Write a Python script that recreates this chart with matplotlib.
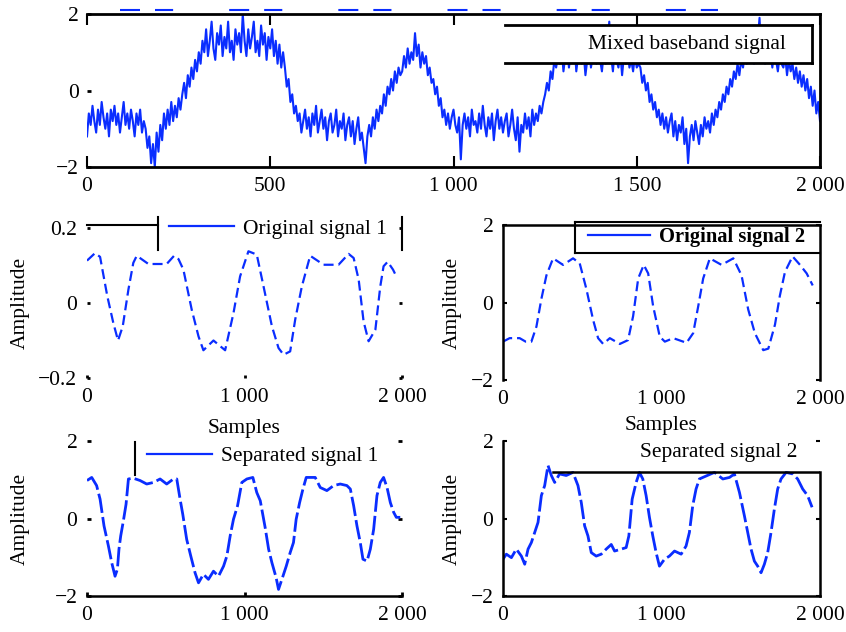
import numpy as np
import matplotlib
matplotlib.use('Agg')
import matplotlib.pyplot as plt
from matplotlib.lines import Line2D
from matplotlib.patches import Rectangle

# 字体设置
plt.rcParams['font.family'] = ['Liberation Serif', 'DejaVu Serif']
plt.rcParams['font.size'] = 15.5

# 混合基带信号（每5个采样点取一个值）
mixed_x = np.arange(0, 2001, 5)
mixed_y = [
    # 0-155
    -1.2, -0.6, -0.9, -0.4, -0.8, -1.1, -0.5, -0.9, -0.3, -0.7, -1.0, -0.6, -1.2, -0.5, -0.8, -0.4,
    -0.9, -0.6, -1.1, -0.7, -0.3, -0.9, -0.6, -1.0, -0.5, -0.8, -1.2, -0.6, -0.9, -0.5, -1.1, -0.8,
    # 160-195
    -1.0, -1.5, -1.2, -1.9, -1.4, -2.0, -1.1, -1.6,
    # 200-255
    -0.9, -1.3, -0.6, -1.0, -0.5, -0.9, -0.3, -0.8, -0.4, -0.7, -0.2, -0.5,
    # 260-315
    -0.1, 0.2, -0.2, 0.4, 0.1, 0.6, 0.3, 0.8, 0.5, 1.0, 0.7, 1.3,
    # 320-535
    1.0, 1.6, 0.9, 1.3, 1.8, 1.1, 0.8, 1.5, 1.2, 1.7, 0.9, 1.4,
    1.1, 1.8, 1.0, 1.3, 0.8, 1.6, 1.2, 1.5, 1.0, 2.0, 1.3, 0.9,
    1.6, 1.1, 1.4, 1.8, 1.0, 1.3, 0.9, 1.7, 1.2, 1.5, 0.8, 1.4,
    1.1, 1.6, 0.9, 1.3, 0.7, 1.2, 0.6, 1.0,
    # 540-575
    0.6, 0.1, 0.3, -0.3, -0.1, -0.6, -0.4, -0.8,
    # 580-765
    -0.6, -1.1, -0.8, -0.5, -1.0, -0.7, -1.2, -0.6, -0.9, -0.4, -1.1, -0.8,
    -0.5, -1.0, -0.7, -1.3, -0.8, -0.6, -1.1, -0.9, -0.5, -1.2, -0.8, -1.0,
    -0.6, -1.3, -0.9, -0.7, -1.2, -0.8, -1.4, -1.0, -0.7, -1.3, -1.1, -1.5,
    -1.9, -1.2,
    # 770-855
    -0.9, -1.2, -0.7, -1.0, -0.5, -0.8, -0.4, -0.6, -0.1, -0.4, 0.1, -0.1, 0.3, 0.0, 0.5, 0.2, 0.6, 0.4,
    # 860-945
    0.5, 0.9, 0.6, 1.1, 0.7, 1.0, 0.8, 1.5, 0.9, 1.2, 0.6, 1.0, 0.7, 0.9, 0.4, 0.6, 0.2, 0.3,
    # 950-1005
    -0.1, 0.1, -0.4, -0.2, -0.7, -0.5, -0.9, -0.6, -1.0, -0.7, -0.5, -0.9,
    # 1010-1245
    -1.1, -0.7, -1.8, -0.9, -0.6, -1.0, -0.7, -1.2, -0.5, -0.9, -0.8, -1.1,
    -0.6, -1.0, -0.4, -0.9, -1.2, -0.7, -1.0, -0.6, -1.3, -0.8, -0.5, -1.0,
    -0.7, -1.1, -0.8, -0.6, -1.2, -0.9, -0.5, -1.0, -1.3, -0.7, -1.6, -0.9,
    -1.1, -0.6, -1.0, -0.7, -1.2, -0.5, -0.9, -0.6, -0.8, -0.4, -0.6, -0.3,
    # 1250-1285
    -0.1, 0.2, 0.0, 0.5, 0.3, 0.8, 0.6, 0.9,
    # 1290-1505
    0.7, 1.1, 0.5, 0.9, 1.2, 0.6, 1.0, 0.8, 1.3, 0.5, 0.9, 1.1,
    0.7, 1.0, 0.4, 0.8, 1.2, 0.6, 0.9, 1.4, 0.7, 0.9, 0.8, 0.5,
    1.0, 0.7, 1.2, 1.8, 0.9, 0.5, 1.1, 0.8, 0.6, 1.0, 0.4, 0.9,
    0.7, 1.1, 0.6, 0.8, 0.5, 0.9, 0.6, 0.7,
    # 1510-1595
    0.6, 0.2, 0.4, 0.0, 0.2, -0.3, -0.1, -0.5, -0.3, -0.7, -0.5, -0.9, -0.6, -1.0, -0.7, -1.1, -0.8, -0.6,
    # 1600-1715
    -1.2, -0.8, -1.3, -0.9, -1.1, -0.7, -1.4, -1.0, -1.9, -1.2, -0.9, -1.3,
    -0.8, -1.1, -1.4, -0.9, -1.2, -0.7, -1.0, -0.8, -1.1, -0.6, -0.9, -0.5,
    # 1720-1805
    -0.7, -0.3, -0.5, -0.1, -0.3, 0.1, -0.1, 0.3, 0.1, 0.5, 0.3, 0.7, 0.4, 0.8, 0.6, 1.0, 0.7, 0.9,
    # 1810-1895
    0.8, 1.2, 0.7, 1.0, 1.3, 1.9, 0.9, 1.1, 0.7, 1.2, 0.8, 1.0, 0.6, 1.1, 0.8, 0.5, 0.9, 0.7,
    # 1900-1975
    0.6, 0.9, 0.4, 0.8, 0.5, 0.7, 0.3, 0.6, 0.2, 0.5, 0.1, 0.4, 0.0, 0.3, -0.2, 0.1,
    # 1980-2000
    -0.4, 0.0, -0.6, -0.3, -0.8,
]

# 原始信号1
orig1_x = [0, 51, 83, 129, 167, 197, 227, 263, 294, 316,
           390, 506, 553, 581, 612, 665, 708, 739, 803, 877,
           930, 972, 1025, 1078, 1121, 1174, 1216, 1248, 1290, 1322,
           1364, 1417, 1502, 1597, 1661, 1693, 1725, 1756, 1788, 1831,
           1862, 1883, 1909, 1943, 1964]
orig1_y = [0.113, 0.133, 0.123, 0.018, -0.053, -0.100, -0.062, 0.036, 0.107, 0.126,
           0.104, 0.104, 0.126, 0.117, 0.089, -0.018, -0.089, -0.126, -0.100, -0.126,
           -0.027, 0.071, 0.138, 0.129, 0.044, -0.062, -0.120, -0.138, -0.129, -0.044,
           0.044, 0.126, 0.102, 0.102, 0.131, 0.120, 0.062, -0.049, -0.102, -0.071,
           0.044, 0.098, 0.110, 0.089, 0.071]

# 原始信号2
orig2_x = [0, 42, 105, 143, 179, 211, 242, 274, 316, 379,
           442, 484, 526, 568, 600, 632, 674, 737, 789, 821,
           853, 888, 916, 947, 989, 1021, 1074, 1158, 1200, 1232,
           1263, 1305, 1379, 1453, 1505, 1547, 1589, 1642, 1674, 1716,
           1747, 1779, 1827, 1874, 1916, 1954]
orig2_y = [-1.01, -0.92, -0.92, -1.01, -1.01, -0.62, 0.09, 0.70, 1.14, 0.97,
           1.14, 1.01, 0.35, -0.44, -0.92, -1.07, -0.92, -1.07, -0.97, -0.35,
           0.62, 0.97, 0.75, -0.09, -0.88, -1.01, -0.92, -1.04, -0.79, -0.09,
           0.62, 1.14, 0.97, 1.14, 0.70, -0.18, -0.79, -1.23, -1.19, -0.57,
           0.18, 0.79, 1.19, 0.97, 0.75, 0.44]

# 分离信号1
sep1_x = [0, 30, 61, 83, 108, 136, 157, 178, 193, 203,
          214, 231, 248, 263, 294, 337, 379, 422, 464, 506,
          549, 570, 591, 608, 633, 659, 686, 708, 739, 771,
          803, 835, 867, 888, 909, 930, 956, 983, 1015, 1053,
          1078, 1100, 1131, 1153, 1174, 1201, 1216, 1244, 1265, 1290,
          1311, 1328, 1350, 1371, 1392, 1449, 1481, 1523, 1566, 1608,
          1650, 1672, 1693, 1714, 1735, 1752, 1778, 1799, 1820, 1841,
          1862, 1883, 1905, 1926, 1947, 1964, 1989]
sep1_y = [0.98, 1.06, 0.85, 0.50, -0.19, -0.71, -1.14, -1.49, -1.31, -0.79,
          -0.45, -0.06, 0.37, 1.02, 1.04, 0.98, 0.89, 0.93, 1.02, 0.89,
          1.02, 1.02, 0.50, 0.11, -0.54, -0.97, -1.40, -1.66, -1.44, -1.57,
          -1.36, -1.49, -1.23, -0.97, -0.45, -0.02, 0.33, 0.93, 1.02, 1.06,
          0.67, 0.46, -0.23, -0.79, -1.14, -1.53, -1.83, -1.49, -1.23, -0.88,
          -0.62, -0.02, 0.41, 0.76, 1.06, 1.06, 0.80, 0.72, 0.85, 0.89,
          0.85, 0.76, 0.33, -0.19, -0.62, -1.05, -1.10, -0.79, -0.28, 0.59,
          0.93, 1.06, 0.80, 0.41, 0.16, 0.03, 0.03]

# 分离信号2
sep2_x = [0, 21, 53, 84, 116, 137, 158, 179, 200, 221,
          242, 263, 284, 305, 326, 357, 399, 441, 473, 494,
          515, 536, 557, 588, 620, 651, 683, 704, 746, 777,
          794, 815, 840, 861, 882, 903, 924, 945, 966, 987,
          1019, 1050, 1082, 1124, 1155, 1176, 1197, 1218, 1239, 1261,
          1334, 1387, 1429, 1460, 1492, 1523, 1544, 1565, 1586, 1607,
          1628, 1649, 1670, 1691, 1712, 1733, 1754, 1786, 1828, 1859,
          1891, 1922, 1950]
sep2_y = [-1.05, -0.92, -1.01, -0.79, -0.97, -1.18, -0.79, -0.62, -0.36, -0.10,
          0.59, 0.85, 1.37, 1.11, 0.93, 1.15, 1.11, 1.19, 0.85, 0.41,
          -0.19, -0.45, -0.88, -0.97, -0.92, -0.79, -0.67, -0.84, -0.79, -0.75,
          -0.45, 0.50, 0.93, 1.19, 1.02, 0.59, 0.03, -0.45, -0.88, -1.23,
          -1.05, -0.97, -0.84, -0.92, -0.71, -0.36, 0.33, 0.76, 1.02, 1.06,
          1.19, 1.02, 1.06, 1.15, 0.67, 0.07, -0.36, -0.79, -1.10, -1.23,
          -1.40, -1.18, -0.88, -0.36, 0.24, 0.76, 1.02, 1.19, 1.15, 1.02,
          0.76, 0.59, 0.29]

ticks_top = [0, 500, 1000, 1500, 2000]
ticks_top_labels = ['0', '500', '1 000', '1 500', '2 000']
ticks_half = [0, 1000, 2000]
ticks_half_labels = ['0', '1 000', '2 000']

blue = '#0a2dff'
W, H = 846, 632

fig = plt.figure(figsize=(W / 100, H / 100), dpi=100)


def add_ax(x0, y0, x1, y1):
    # 按像素位置添加坐标轴
    return fig.add_axes([x0 / W, 1 - y1 / H, (x1 - x0) / W, (y1 - y0) / H])


def frame_line(ax, xs, ys, lw=1.5):
    ax.plot(xs, ys, color='black', lw=lw, transform=ax.transAxes, clip_on=False, zorder=4)


def text_legend(ax, label, anchor):
    h = Line2D([], [], color='none', label=label)
    leg = ax.legend(handles=[h], handlelength=0, handletextpad=0, frameon=False,
                    loc='center left', bbox_to_anchor=anchor, borderpad=0, borderaxespad=0)
    leg.set_zorder(6)
    return leg


def line_legend(ax, label, anchor, bold=False):
    h = Line2D([], [], color=blue, lw=1.6, label=label)
    prop = {'weight': 'bold', 'size': 14.8} if bold else {'size': 15.5}
    leg = ax.legend(handles=[h], handlelength=3.0, handletextpad=0.45, frameon=False,
                    loc='center left', bbox_to_anchor=anchor, borderpad=0, borderaxespad=0,
                    prop=prop)
    leg.set_zorder(6)
    return leg


# ---------- 混合基带信号 ----------
ax0 = add_ax(87, 14, 820, 167)
ax0.plot(mixed_x, mixed_y, color=blue, lw=1.5, zorder=2)
ax0.set_xlim(0, 2000)
ax0.set_ylim(-2, 2)
ax0.set_xticks(ticks_top, ticks_top_labels)
ax0.set_yticks([-2, 0, 2], ['\u22122', '0', '2'])
ax0.spines['left'].set_visible(False)
for s in ['top', 'bottom', 'right']:
    ax0.spines[s].set_linewidth(2)
ax0.tick_params(axis='x', direction='in', length=8, width=1.5, top=True, pad=7)
ax0.tick_params(axis='y', direction='in', length=3, width=2, pad=6)
ax0.add_patch(Rectangle((0.570, 0.680), 0.419, 0.248, transform=ax0.transAxes,
                        facecolor='white', edgecolor='none', zorder=3))
frame_line(ax0, [0.570, 0.989], [0.928, 0.928], lw=2)
frame_line(ax0, [0.570, 0.989], [0.680, 0.680], lw=2)
frame_line(ax0, [0.989, 0.989], [0.680, 0.928], lw=2)
text_legend(ax0, 'Mixed baseband signal', ((588 - 87) / 733, (167 - 44) / 153))

# 图顶部的虚线残影
fig.add_artist(Line2D([120 / W, 718 / W], [1 - 10 / H, 1 - 10 / H], color=blue, lw=1.5,
                      dashes=[9.6, 7.2, 8.7, 26.9]))

# ---------- 原始信号1 ----------
ax1 = add_ax(87, 228, 402, 378)
ax1.plot(orig1_x, orig1_y, color=blue, lw=1.6, linestyle=(0, (4.5, 2.2)))
ax1.set_xlim(0, 2000)
ax1.set_ylim(-0.2, 0.2)
ax1.set_xticks(ticks_half, ticks_half_labels)
ax1.set_yticks([-0.2, 0, 0.2], ['\u22120.2', '0', '0.2'])
for s in ax1.spines.values():
    s.set_visible(False)
ax1.tick_params(direction='in', length=2, width=2, right=True, pad=7)
frame_line(ax1, [0, 0.225], [1.02, 1.02])
frame_line(ax1, [0.225, 0.225], [0.853, 1.073])
frame_line(ax1, [1.0, 1.0], [0.853, 1.073])
line_legend(ax1, 'Original signal 1', ((169 - 87) / 315, (378 - 229) / 150))
ax1.set_xlabel('Samples')
ax1.xaxis.set_label_coords(0.5, -0.27)
ax1.set_ylabel('Amplitude')
ax1.yaxis.set_label_coords(-0.181, 0.5)

# ---------- 原始信号2 ----------
ax2 = add_ax(503, 225, 820, 380)
ax2.plot(orig2_x, orig2_y, color=blue, lw=1.6, linestyle=(0, (4.5, 2.2)))
ax2.set_xlim(0, 2000)
ax2.set_ylim(-2, 2)
ax2.set_xticks(ticks_half, ticks_half_labels)
ax2.set_yticks([-2, 0, 2], ['\u22122', '0', '2'])
ax2.spines['bottom'].set_visible(False)
for s in ['top', 'left', 'right']:
    ax2.spines[s].set_linewidth(1.8)
ax2.tick_params(direction='in', length=3, width=1.5, right=True, pad=7)
ax2.tick_params(axis='x', length=0)
frame_line(ax2, [0.227, 1.0], [1.019, 1.019])
frame_line(ax2, [0.227, 1.0], [0.819, 0.819])
frame_line(ax2, [0.227, 0.227], [0.819, 1.019])
line_legend(ax2, 'Original signal 2', ((588 - 503) / 317, (380 - 237) / 155), bold=True)
ax2.set_xlabel('Samples')
ax2.xaxis.set_label_coords(0.5, -0.23)
ax2.set_ylabel('Amplitude')
ax2.yaxis.set_label_coords(-0.129, 0.5)

# ---------- 分离信号1 ----------
ax3 = add_ax(87, 441, 402, 596)
ax3.plot(sep1_x, sep1_y, color=blue, lw=2.0, linestyle=(0, (7, 1.5)))
ax3.set_xlim(0, 2000)
ax3.set_ylim(-2, 2)
ax3.set_xticks(ticks_half, ticks_half_labels)
ax3.set_yticks([-2, 0, 2], ['\u22122', '0', '2'])
for s in ['top', 'left', 'right']:
    ax3.spines[s].set_visible(False)
ax3.spines['bottom'].set_linewidth(1.8)
ax3.tick_params(direction='in', length=3, width=2, right=True, pad=7)
frame_line(ax3, [0.152, 0.152], [0.78, 0.994])
line_legend(ax3, 'Separated signal 1', ((147 - 87) / 315, (596 - 456) / 155))
ax3.set_ylabel('Amplitude')
ax3.yaxis.set_label_coords(-0.181, 0.5)

# ---------- 分离信号2 ----------
ax4 = add_ax(503, 441, 820, 596)
ax4.plot(sep2_x, sep2_y, color=blue, lw=2.0, linestyle=(0, (7, 1.5)))
ax4.set_xlim(0, 2000)
ax4.set_ylim(-2, 2)
ax4.set_xticks(ticks_half, ticks_half_labels)
ax4.set_yticks([-2, 0, 2], ['\u22122', '0', '2'])
ax4.spines['top'].set_visible(False)
ax4.spines['right'].set_bounds(-2, 1.2)
for s in ['bottom', 'left', 'right']:
    ax4.spines[s].set_linewidth(1.8)
ax4.axhline(1.2, xmin=0.158, xmax=1.0, color='black', lw=1.8)
ax4.tick_params(direction='in', length=3, width=1.5, right=True, pad=7)
ax4.tick_params(axis='x', length=0)
text_legend(ax4, 'Separated signal 2', ((640 - 503) / 317, (596 - 452) / 155))
ax4.set_ylabel('Amplitude')
ax4.yaxis.set_label_coords(-0.129, 0.5)

fig.savefig('out.png', dpi=100)
